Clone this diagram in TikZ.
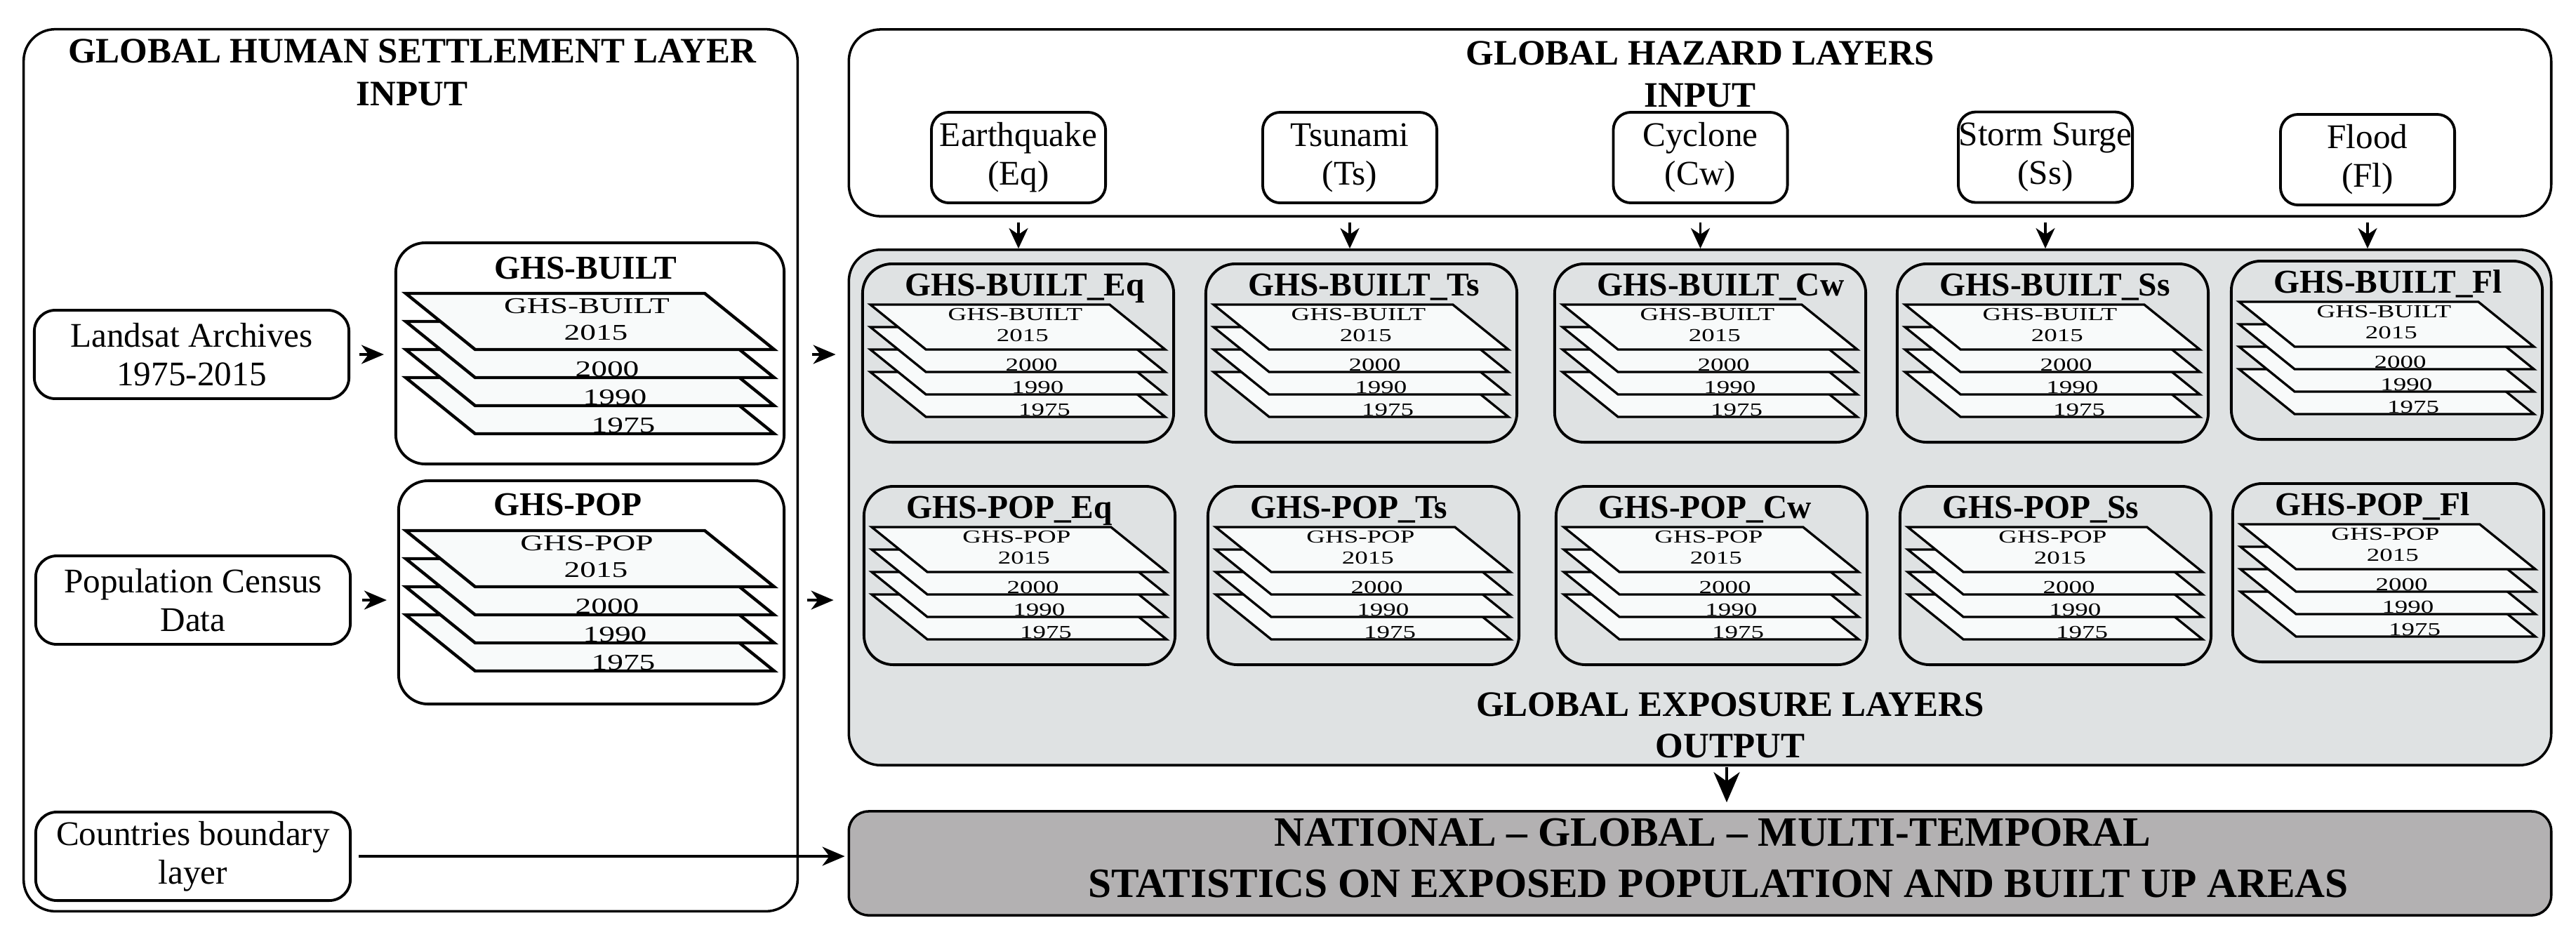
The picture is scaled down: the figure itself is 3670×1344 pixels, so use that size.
\documentclass[tikz,border=0pt]{standalone}
\usepackage{fontspec}
\setmainfont{Liberation Serif}
\usepackage{graphicx}
\usetikzlibrary{arrows.meta}
\definecolor{layerfill}{RGB}{248,250,250}
\definecolor{expofill}{RGB}{223,226,227}
\definecolor{statfill}{RGB}{179,177,178}
\tikzset{
  panel/.style={draw=black, line width=1.0pt, rounded corners=0.45cm, inner sep=0pt},
  subpanel/.style={draw=black, line width=1.1pt, rounded corners=0.42cm, inner sep=0pt},
  srcbox/.style={draw=black, line width=1.1pt, rounded corners=0.3cm, inner sep=0pt, align=center, font=\fontsize{14pt}{15.6pt}\selectfont},
  hzbox/.style={srcbox, rounded corners=0.25cm, minimum width=2.48cm, minimum height=1.29cm},
  bigtitle/.style={inner sep=0pt, anchor=base, font=\fontsize{14.5pt}{17pt}\selectfont\bfseries},
  stattitle/.style={inner sep=0pt, anchor=base, font=\fontsize{16.9pt}{19pt}\selectfont\bfseries},
  subtitle/.style={inner sep=0pt, anchor=base west, font=\fontsize{13.5pt}{16pt}\selectfont\bfseries},
  stackplate/.style={draw=black, fill=layerfill, line join=miter},
  lyrtxt/.style={inner sep=0pt, anchor=base},
  harr/.style={line width=0.9pt, -{Stealth[length=0.32cm, width=0.27cm, inset=0.1cm]}},
  varr/.style={line width=0.9pt, -{Stealth[length=0.29cm, width=0.27cm, inset=0.09cm]}},
  bigarr/.style={line width=1.1pt, -{Stealth[length=0.43cm, width=0.37cm, inset=0.13cm]}},
}
\newcommand\lyrfont[2]{\scalebox{1.42}[1]{\fontsize{#1}{#1}\selectfont #2}}
% #1 name, #2 x, #3 y, #4 scale, #5 label, #6 font size, #7 line width
\newcommand\layerstack[7]{%
  \begin{scope}[shift={(#2,#3)}, scale=#4]
    \foreach \k in {3,2,1,0}{\draw[stackplate, line width=#7] (0,\k*40) -- (426,\k*40) -- (525,\k*40+80) -- (99,\k*40+80) -- cycle;}
    \node[lyrtxt] (#1-lab) at (258,28) {\lyrfont{#6}{#5}};
    \node[lyrtxt] (#1-y2015) at (271,66) {\lyrfont{#6}{2015}};
    \node[lyrtxt] (#1-y2000) at (287,118) {\lyrfont{#6}{2000}};
    \node[lyrtxt] (#1-y1990) at (298,158) {\lyrfont{#6}{1990}};
    \node[lyrtxt] (#1-y1975) at (310,198) {\lyrfont{#6}{1975}};
  \end{scope}}
% #1 name, #2 left, #3 top, #4 title, #5 layer label
\newcommand\expobox[5]{%
  \node[subpanel, minimum width=4.43cm, minimum height=2.54cm] (#1) at (#2+221.5,#3+127) {};
  \node[subtitle] (#1-t) at (#2+60,#3+45) {#4};
  \layerstack{#1}{#2+11}{#3+58}{0.8}{#5}{7.4pt}{0.95pt}}
\begin{document}
\begin{tikzpicture}[x=0.01cm, y=-0.01cm]
\useasboundingbox (0,0) rectangle (3670,1344);

% ---------- left panel ----------
\node[panel, minimum width=11.02cm, minimum height=12.56cm] (ghsl) at (585,670) {};
\node[bigtitle] (ghsl-t1) at (587,89) {GLOBAL HUMAN SETTLEMENT LAYER};
\node[bigtitle] (ghsl-t2) at (587,150) {INPUT};

\node[srcbox, minimum width=4.48cm, minimum height=1.26cm] (landsat) at (273,505) {Landsat Archives\\1975-2015};
\node[srcbox, minimum width=4.48cm, minimum height=1.26cm] (pop) at (275,855) {Population Census\\Data};
\node[srcbox, minimum width=4.48cm, minimum height=1.26cm] (countries) at (275,1220) {Countries boundary\\layer};

\node[subpanel, minimum width=5.53cm, minimum height=3.15cm] (built) at (840.5,503.5) {};
\node[subtitle] (built-t) at (704,397) {GHS-BUILT};
\layerstack{built}{578}{418}{1}{GHS-BUILT}{9.1pt}{1.25pt}

\node[subpanel, minimum width=5.49cm, minimum height=3.18cm] (popbox) at (842.5,844) {};
\node[subtitle] (popbox-t) at (703,734) {GHS-POP};
\layerstack{popbox}{578}{756}{1}{GHS-POP}{9.1pt}{1.25pt}

% ---------- hazard panel ----------
\node[panel, minimum width=24.24cm, minimum height=2.66cm] (haz) at (2422,175) {};
\node[bigtitle] (haz-t1) at (2422,92) {GLOBAL HAZARD LAYERS};
\node[bigtitle] (haz-t2) at (2422,152) {INPUT};
\node[hzbox] (eq) at (1451,224.5) {Earthquake\\(Eq)};
\node[hzbox] (ts) at (1923,224.5) {Tsunami\\(Ts)};
\node[hzbox] (cw) at (2422.5,224.5) {Cyclone\\(Cw)};
\node[hzbox] (ss) at (2914,224) {Storm Surge\\(Ss)};
\node[hzbox] (fl) at (3373,227.5) {Flood\\(Fl)};

% ---------- exposure panel ----------
\node[panel, fill=expofill, minimum width=24.24cm, minimum height=7.34cm] (expo) at (2422,723) {};
\expobox{bEq}{1229}{376}{GHS-BUILT\_Eq}{GHS-BUILT}
\expobox{bTs}{1718}{376}{GHS-BUILT\_Ts}{GHS-BUILT}
\expobox{bCw}{2215}{376}{GHS-BUILT\_Cw}{GHS-BUILT}
\expobox{bSs}{2703}{376}{GHS-BUILT\_Ss}{GHS-BUILT}
\expobox{bFl}{3179}{372}{GHS-BUILT\_Fl}{GHS-BUILT}
\expobox{pEq}{1231}{693}{GHS-POP\_Eq}{GHS-POP}
\expobox{pTs}{1721}{693}{GHS-POP\_Ts}{GHS-POP}
\expobox{pCw}{2217}{693}{GHS-POP\_Cw}{GHS-POP}
\expobox{pSs}{2707}{693}{GHS-POP\_Ss}{GHS-POP}
\expobox{pFl}{3181}{689}{GHS-POP\_Fl}{GHS-POP}
\node[bigtitle] (expo-t1) at (2465,1020) {GLOBAL EXPOSURE LAYERS};
\node[bigtitle] (expo-t2) at (2465,1079) {OUTPUT};

% ---------- statistics panel ----------
\node[panel, fill=statfill, rounded corners=0.28cm, minimum width=24.24cm, minimum height=1.48cm] (stat) at (2422,1230) {};
\node[stattitle] (stat-t1) at (2440,1205) {NATIONAL -- GLOBAL -- MULTI-TEMPORAL};
\node[stattitle] (stat-t2) at (2448,1278) {STATISTICS ON EXPOSED POPULATION AND BUILT UP AREAS};

% ---------- connectors ----------
\draw[harr, shorten <=0.13cm, shorten >=0.15cm] (landsat.east) -- (landsat.east -| built.west);
\draw[harr, shorten <=0.38cm, shorten >=0.17cm] (landsat.east -| built.east) -- (landsat.east -| expo.west);
\draw[harr, shorten <=0.15cm, shorten >=0.15cm] (pop.east) -- (pop.east -| popbox.west);
\draw[harr, shorten <=0.31cm, shorten >=0.2cm] (pop.east -| popbox.east) -- (pop.east -| expo.west);
\draw[harr, shorten <=0.10cm, shorten >=0.04cm] (countries.east) -- (countries.east -| stat.west);
\foreach \h in {eq,ts,cw,ss,fl}{\draw[varr, shorten <=0.07cm] (\h |- haz.south) -- (\h |- expo.north);}
\coordinate (dn) at (2460,1090);
\draw[bigarr, shorten <=0.03cm, shorten >=0.11cm] (dn) -- (dn |- stat.north);
\end{tikzpicture}
\end{document}
